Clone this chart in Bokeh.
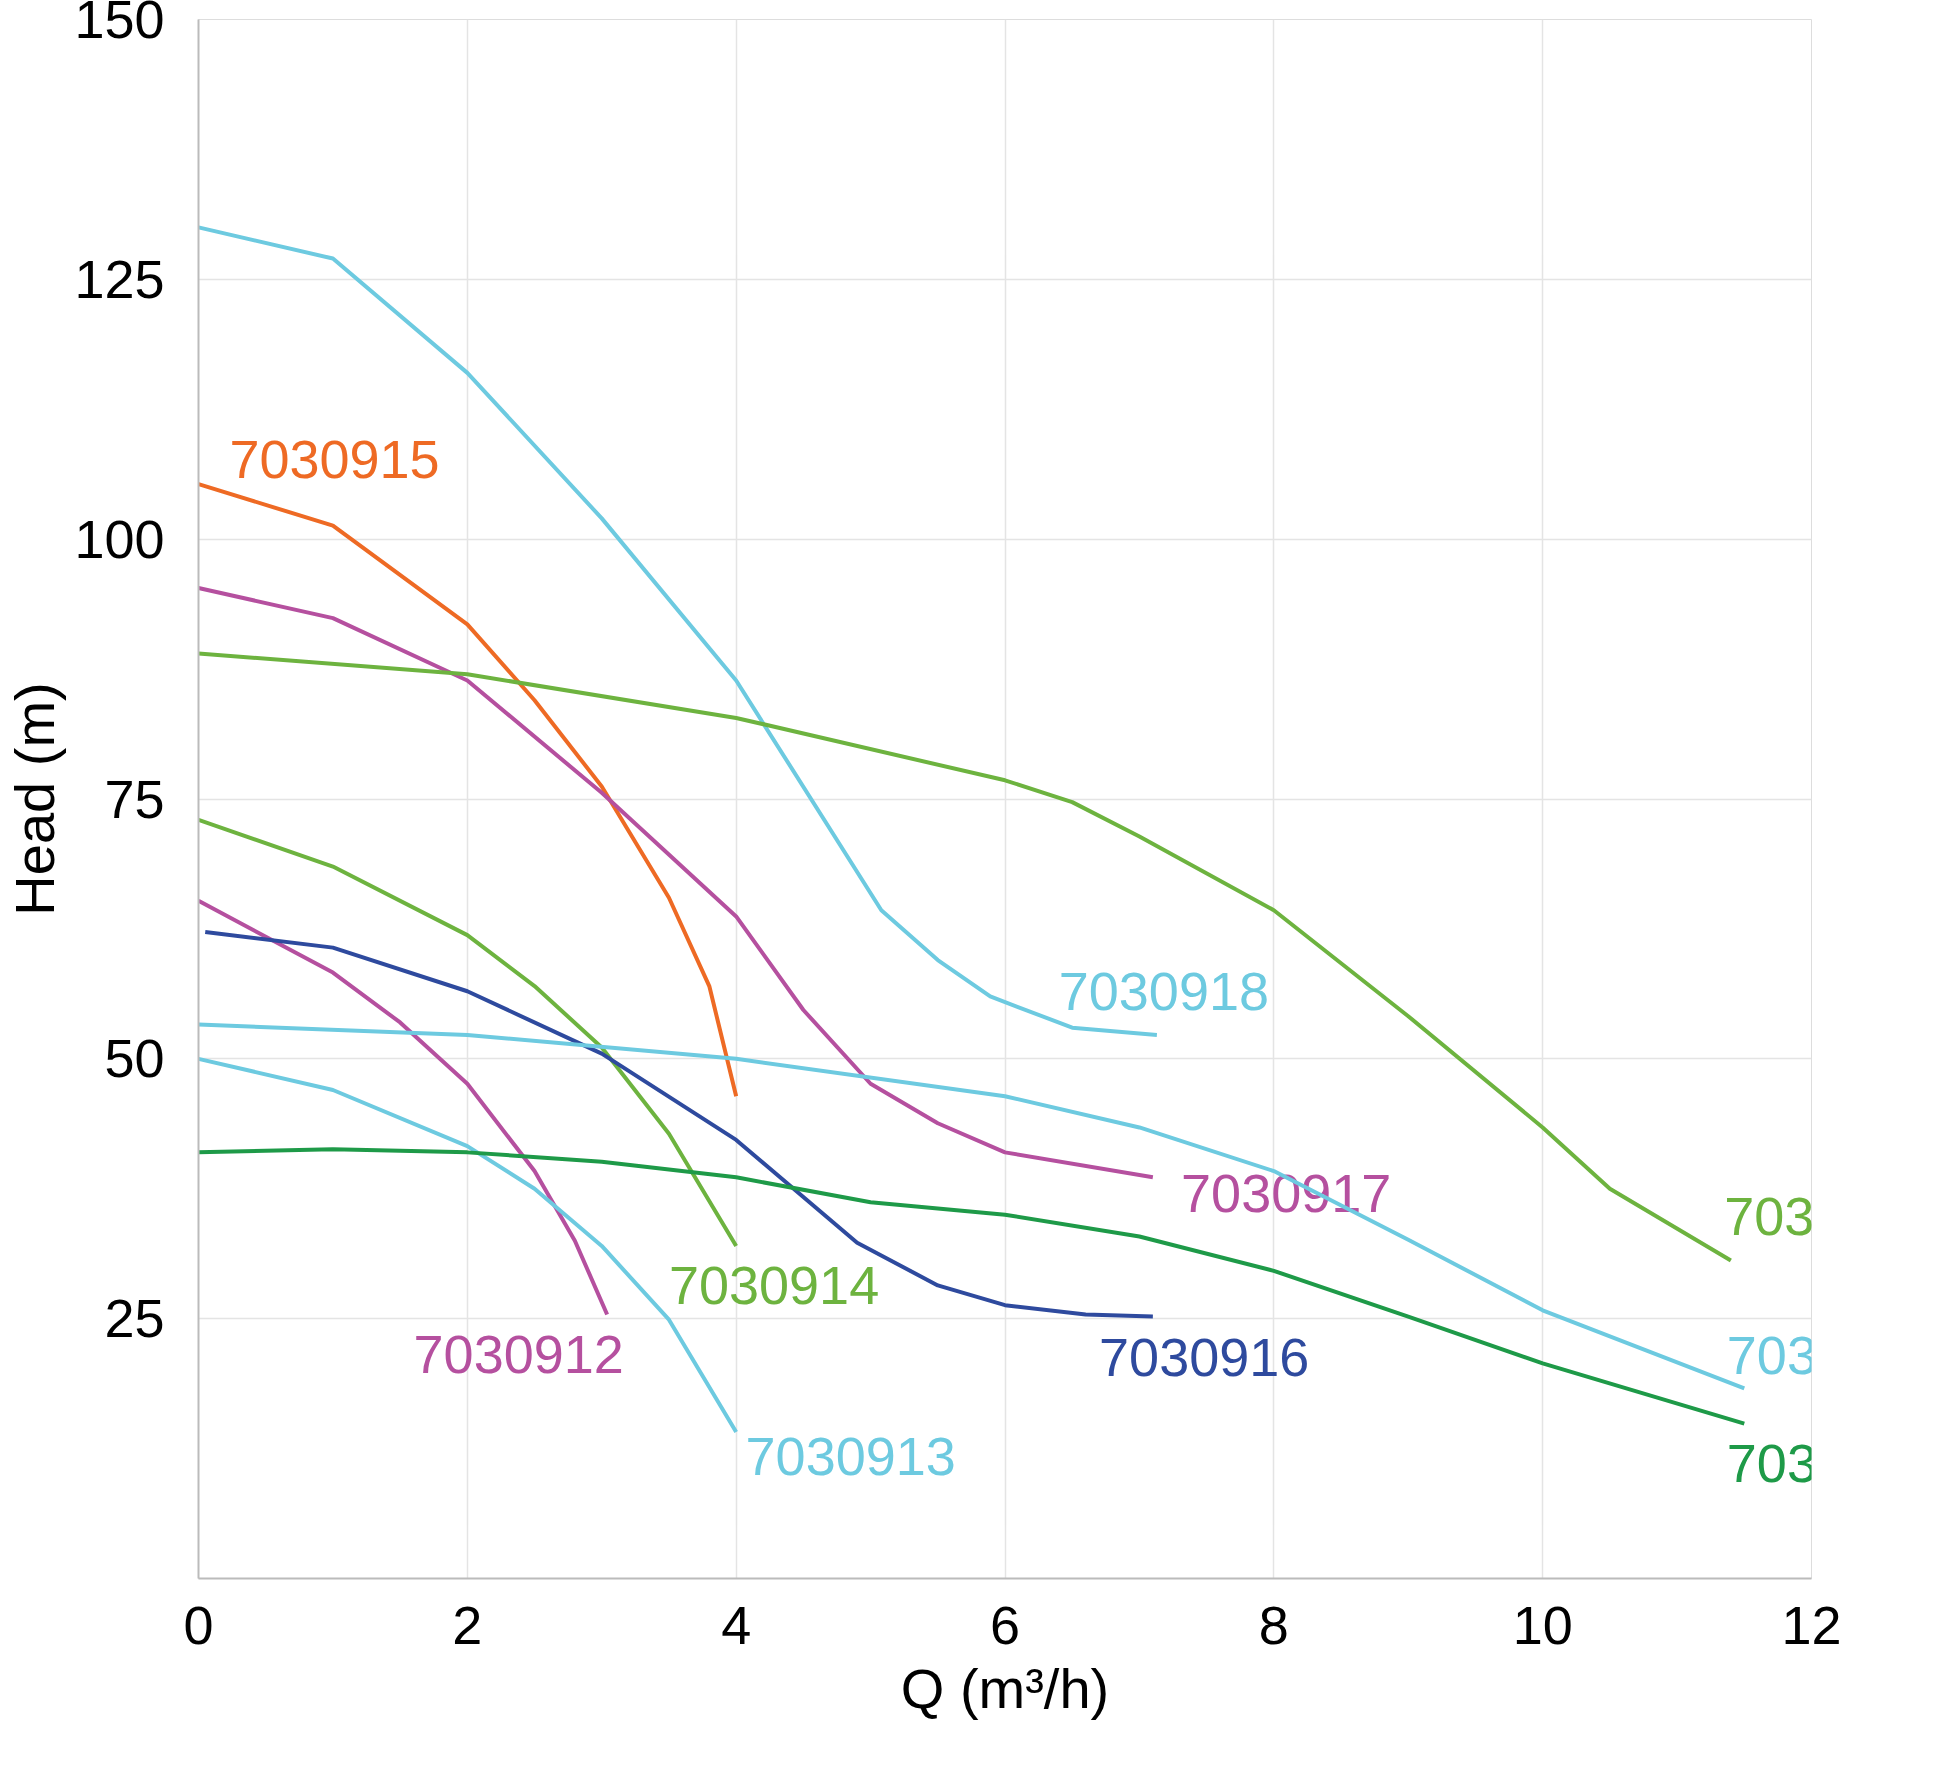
from bokeh.plotting import figure
from bokeh.models import FixedTicker, Range1d
from bokeh.core.properties import value
from bokeh.embed import file_html
from bokeh.resources import INLINE

FONT = "Liberation Sans"

series = {
    "7030918": ([0, 1, 2, 3, 4, 5.08, 5.5, 5.89, 6.5, 7.13], [130, 127, 116, 102, 86.4, 64.3, 59.5, 56, 53, 52.3], "#6DCAE0"),
    "7030915": ([0, 1, 2, 2.5, 3, 3.5, 3.8, 4], [105.3, 101.3, 91.8, 84.5, 76.2, 65.5, 57, 46.4], "#EE6A24"),
    "7030917": ([0, 1, 2, 3, 4, 4.5, 5, 5.5, 6, 7.1], [95.3, 92.4, 86.4, 75.6, 63.7, 54.7, 47.6, 43.8, 41, 38.6], "#B5509F"),
    "7030921": ([0, 2, 4, 6, 6.5, 7, 8, 9, 10, 10.5, 11.4], [89, 87, 82.8, 76.8, 74.7, 71.4, 64.3, 54.1, 43.4, 37.5, 30.6], "#6DB33F"),
    "7030914": ([0, 1, 2, 2.5, 3, 3.5, 4], [73, 68.5, 61.9, 57, 51.1, 42.8, 32], "#6DB33F"),
    "7030912": ([0, 1, 1.5, 2, 2.5, 2.8, 3.04], [65.2, 58.3, 53.5, 47.6, 39.2, 32.5, 25.4], "#B5509F"),
    "7030916": ([0.05, 1, 2, 3, 4, 4.9, 5.5, 6, 6.6, 7.1], [62.2, 60.7, 56.5, 50.5, 42.2, 32.3, 28.2, 26.3, 25.4, 25.2], "#2E4A9E"),
    "7030920": ([0, 2, 4, 6, 7, 8, 9, 10, 11.5], [53.3, 52.3, 50, 46.4, 43.4, 39.2, 32.6, 25.8, 18.3], "#6DCAE0"),
    "7030913": ([0, 1, 2, 2.5, 3, 3.5, 4], [50, 47, 41.6, 37.5, 32, 24.9, 14.1], "#6DCAE0"),
    "7030919": ([0, 1, 2, 3, 4, 5, 6, 7, 8, 9, 10, 11.5], [41, 41.3, 41, 40.1, 38.6, 36.2, 35, 32.9, 29.6, 25.2, 20.7, 14.9], "#1E9A48"),
}
label_pos = {
    "7030915": (0.23, 107.7), "7030918": (6.4, 56.5), "7030917": (7.31, 37),
    "7030921": (11.35, 34.8), "7030920": (11.37, 21.5), "7030919": (11.37, 11.1),
    "7030916": (6.7, 21.3), "7030913": (4.07, 11.7), "7030914": (3.5, 28.2),
    "7030912": (1.6, 21.6),
}
x_ticks = [0, 2, 4, 6, 8, 10, 12]
y_ticks = [25, 50, 75, 100, 125, 150]

p = figure(width=1930, height=1755, output_backend="svg", toolbar_location=None,
           x_range=Range1d(0, 12), y_range=Range1d(0, 150),
           min_border_left=188, min_border_right=119, min_border_top=19, min_border_bottom=177)
p.outline_line_color = "#dddddd"
for name, (xs, ys, c) in series.items():
    p.line(xs, ys, line_color=c, line_width=4, line_join="round")
    lx, ly = label_pos[name]
    p.text([lx], [ly], text=[name], text_color=c, text_font=value(FONT),
           text_font_size="54px", text_baseline="middle", text_align="left")

p.xaxis.ticker = FixedTicker(ticks=x_ticks)
p.yaxis.ticker = FixedTicker(ticks=y_ticks)
for ax in (p.xaxis[0], p.yaxis[0]):
    ax.major_tick_line_color = None
    ax.minor_tick_line_color = None
    ax.axis_line_color = "#bbbbbb"
    ax.axis_line_width = 2
    ax.major_label_text_font = FONT
    ax.major_label_text_font_size = "54px"
    ax.major_label_text_color = "black"
    ax.axis_label_text_font = FONT
    ax.axis_label_text_font_size = "56px"
    ax.axis_label_text_font_style = "normal"
    ax.axis_label_text_color = "black"
p.xaxis.axis_label = "Q (m³/h)"
p.yaxis.axis_label = "Head (m)"
p.xaxis.major_label_standoff = 22
p.yaxis.major_label_standoff = 28
p.xaxis.axis_label_standoff = 10
p.grid.grid_line_color = "#e4e4e4"
p.grid.grid_line_width = 1.5

open("out.html", "w").write(file_html(p, INLINE))
